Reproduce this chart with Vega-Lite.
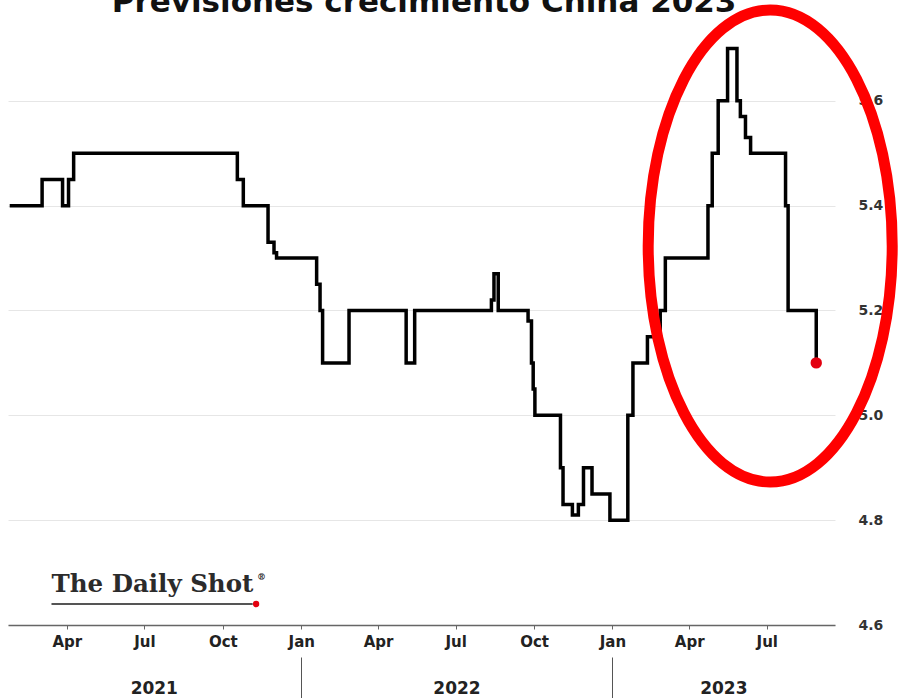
{
  "$schema": "https://vega.github.io/schema/vega-lite/v6.json",
  "autosize": {"type": "none"},
  "width": 827,
  "height": 585,
  "padding": {"left": 8, "top": 40, "right": 65, "bottom": 73},
  "config": {
    "view": {"stroke": null},
    "font": "DejaVu Sans",
    "axis": {"labelFont": "DejaVu Sans", "labelFontWeight": "bold", "labelColor": "#333333"}
  },
  "datasets": {
    "forecast": [
      {"date": "2021-01-24", "value": 5.4},
      {"date": "2021-03-03", "value": 5.45},
      {"date": "2021-03-27", "value": 5.4},
      {"date": "2021-04-03", "value": 5.45},
      {"date": "2021-04-09", "value": 5.5},
      {"date": "2021-10-18", "value": 5.45},
      {"date": "2021-10-25", "value": 5.4},
      {"date": "2021-11-23", "value": 5.33},
      {"date": "2021-11-30", "value": 5.31},
      {"date": "2021-12-03", "value": 5.3},
      {"date": "2022-01-19", "value": 5.25},
      {"date": "2022-01-23", "value": 5.2},
      {"date": "2022-01-26", "value": 5.1},
      {"date": "2022-02-26", "value": 5.2},
      {"date": "2022-05-04", "value": 5.1},
      {"date": "2022-05-14", "value": 5.2},
      {"date": "2022-08-12", "value": 5.22},
      {"date": "2022-08-15", "value": 5.27},
      {"date": "2022-08-20", "value": 5.2},
      {"date": "2022-09-24", "value": 5.18},
      {"date": "2022-09-28", "value": 5.1},
      {"date": "2022-09-30", "value": 5.05},
      {"date": "2022-10-02", "value": 5.0},
      {"date": "2022-11-01", "value": 4.9},
      {"date": "2022-11-04", "value": 4.83},
      {"date": "2022-11-15", "value": 4.81},
      {"date": "2022-11-22", "value": 4.83},
      {"date": "2022-11-28", "value": 4.9},
      {"date": "2022-12-08", "value": 4.85},
      {"date": "2022-12-29", "value": 4.8},
      {"date": "2023-01-19", "value": 5.0},
      {"date": "2023-01-25", "value": 5.1},
      {"date": "2023-02-11", "value": 5.15},
      {"date": "2023-02-26", "value": 5.2},
      {"date": "2023-03-04", "value": 5.3},
      {"date": "2023-04-23", "value": 5.4},
      {"date": "2023-04-28", "value": 5.5},
      {"date": "2023-05-05", "value": 5.6},
      {"date": "2023-05-16", "value": 5.7},
      {"date": "2023-05-27", "value": 5.6},
      {"date": "2023-05-31", "value": 5.57},
      {"date": "2023-06-06", "value": 5.53},
      {"date": "2023-06-12", "value": 5.5},
      {"date": "2023-07-23", "value": 5.4},
      {"date": "2023-07-26", "value": 5.2},
      {"date": "2023-08-28", "value": 5.1}
    ]
  },
  "resolve": {"scale": {"x": "shared", "y": "shared"}, "axis": {"x": "independent", "y": "independent"}},
  "layer": [
    {
      "data": {"name": "forecast"},
      "mark": {"type": "line", "interpolate": "step-after", "color": "#000000", "strokeWidth": 3.5},
      "encoding": {
        "x": {
          "field": "date",
          "type": "temporal",
          "scale": {"domain": [{"year": 2021, "month": 1, "date": 22}, {"year": 2023, "month": 9, "date": 19}]},
          "axis": {
            "orient": "bottom",
            "title": null,
            "values": [
              {"year": 2021, "month": 4, "date": 1}, {"year": 2021, "month": 7, "date": 1}, {"year": 2021, "month": 10, "date": 1},
              {"year": 2022, "month": 1, "date": 1}, {"year": 2022, "month": 4, "date": 1}, {"year": 2022, "month": 7, "date": 1}, {"year": 2022, "month": 10, "date": 1},
              {"year": 2023, "month": 1, "date": 1}, {"year": 2023, "month": 4, "date": 1}, {"year": 2023, "month": 7, "date": 1}
            ],
            "labelExpr": "timeFormat(datum.value, '%b')",
            "labelFontSize": 15,
            "labelPadding": 5,
            "labelColor": "#222222",
            "grid": false,
            "tickSize": 4,
            "tickColor": "#666666",
            "domainColor": "#666666",
            "domainWidth": 1.5
          }
        },
        "y": {
          "field": "value",
          "type": "quantitative",
          "scale": {"domain": [4.6, 5.716], "nice": false, "zero": false},
          "axis": {
            "orient": "right",
            "title": null,
            "values": [4.6, 4.8, 5.0, 5.2, 5.4, 5.6],
            "format": ".1f",
            "labelFontSize": 14,
            "labelPadding": 23,
            "ticks": false,
            "domain": false,
            "grid": true,
            "gridColor": "#e6e6e6",
            "gridWidth": 1
          }
        }
      }
    },
    {
      "data": {"name": "forecast"},
      "transform": [
        {"joinaggregate": [{"op": "max", "field": "date", "as": "last_date"}]},
        {"filter": "time(datum.date) === time(datum.last_date)"}
      ],
      "mark": {"type": "point", "filled": true, "color": "#e3000f", "size": 130, "opacity": 1},
      "encoding": {
        "x": {"field": "date", "type": "temporal", "axis": null},
        "y": {"field": "value", "type": "quantitative", "axis": null}
      }
    },
    {
      "data": {"values": [{}]},
      "mark": {"type": "text", "font": "DejaVu Sans", "fontSize": 31, "fontWeight": "bold", "color": "#111111", "align": "center", "baseline": "alphabetic", "text": "Previsiones crecimiento China 2023"},
      "encoding": {
        "x": {"datum": {"year": 2022, "month": 5, "date": 25}, "type": "temporal", "axis": null},
        "y": {"datum": 5.769, "type": "quantitative", "axis": null}
      }
    },
    {
      "data": {"values": [{}]},
      "mark": {"type": "text", "font": "DejaVu Serif", "fontSize": 24.5, "fontWeight": "bold", "color": "#2b2b2b", "align": "left", "baseline": "alphabetic", "text": "The Daily Shot"},
      "encoding": {
        "x": {
          "datum": {"year": 2021, "month": 3, "date": 14},
          "type": "temporal",
          "axis": {
            "orient": "bottom",
            "title": null,
            "values": [{"year": 2021, "month": 7, "date": 12}, {"year": 2022, "month": 7, "date": 2}, {"year": 2023, "month": 5, "date": 11}],
            "labelExpr": "timeFormat(datum.value, '%Y')",
            "labelFontSize": 17,
            "labelColor": "#222222",
            "labelPadding": 55,
            "ticks": false,
            "tickSize": 0,
            "domain": false,
            "grid": false
          }
        },
        "y": {"datum": 4.663, "type": "quantitative", "axis": null}
      }
    },
    {
      "data": {"values": [{}]},
      "mark": {"type": "text", "font": "DejaVu Serif", "fontSize": 9, "fontWeight": "bold", "color": "#2b2b2b", "align": "left", "baseline": "alphabetic", "text": "®"},
      "encoding": {
        "x": {"datum": {"year": 2021, "month": 11, "date": 10}, "type": "temporal", "axis": null},
        "y": {"datum": 4.685, "type": "quantitative", "axis": null}
      }
    },
    {
      "data": {"values": [{}]},
      "mark": {"type": "rule", "color": "#555555", "strokeWidth": 2},
      "encoding": {
        "x": {"datum": {"year": 2021, "month": 3, "date": 14}, "type": "temporal", "axis": null},
        "x2": {"datum": {"year": 2021, "month": 11, "date": 5}},
        "y": {"datum": 4.64, "type": "quantitative", "axis": null}
      }
    },
    {
      "data": {"values": [{}]},
      "mark": {"type": "point", "filled": true, "color": "#e3000f", "size": 40, "opacity": 1},
      "encoding": {
        "x": {"datum": {"year": 2021, "month": 11, "date": 9}, "type": "temporal", "axis": null},
        "y": {"datum": 4.64, "type": "quantitative", "axis": null}
      }
    },
    {
      "data": {"values": [{}]},
      "mark": {
        "type": "point",
        "shape": "M -0.517 0 A 0.517 1 0 1 1 0.517 0 A 0.517 1 0 1 1 -0.517 0 Z",
        "filled": false,
        "stroke": "#ff0000",
        "strokeWidth": 11,
        "strokeOpacity": 1,
        "opacity": 1,
        "size": 222784
      },
      "encoding": {
        "x": {
          "datum": {"year": 2023, "month": 7, "date": 5},
          "type": "temporal",
          "axis": {
            "orient": "bottom",
            "title": null,
            "values": [{"year": 2022, "month": 1, "date": 1}, {"year": 2023, "month": 1, "date": 1}],
            "labels": false,
            "domain": false,
            "grid": false,
            "offset": 32,
            "tickSize": 41,
            "tickColor": "#555555",
            "tickWidth": 1
          }
        },
        "y": {"datum": 5.323, "type": "quantitative", "axis": null}
      }
    }
  ]
}
